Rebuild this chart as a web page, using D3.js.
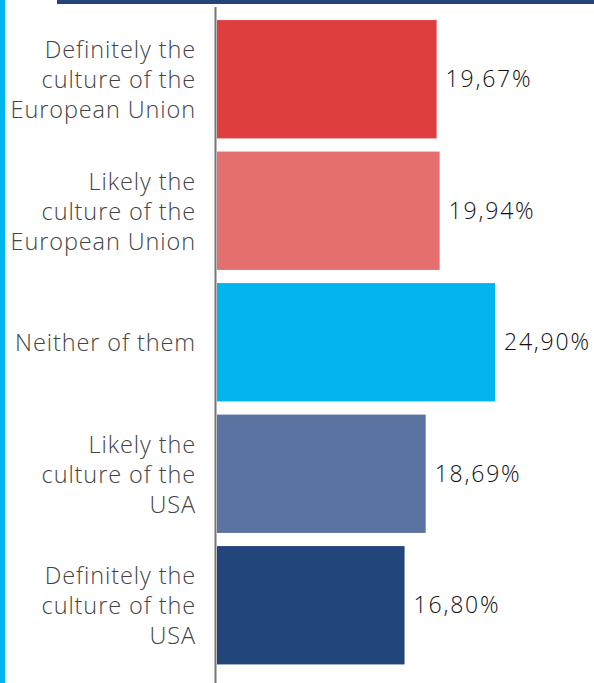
<!DOCTYPE html>
<html><head><meta charset="utf-8">
<script src="https://cdn.jsdelivr.net/npm/d3@7"></script>
<style>html,body{margin:0;padding:0;background:#fff;overflow:hidden}</style>
</head><body>
<svg id="chart" width="594" height="683"></svg>
<script>
const categories = [
  ["Definitely the","culture of the","European Union"],
  ["Likely the","culture of the","European Union"],
  ["Neither of them"],
  ["Likely the","culture of the","USA"],
  ["Definitely the","culture of the","USA"]
];
const values = [19.67, 19.94, 24.90, 18.69, 16.80];
const valueLabels = ["19,67%","19,94%","24,90%","18,69%","16,80%"];
const colors = ["#DF3E3E","#E46F6E","#00B5EE","#5A73A0","#22457C"];

const svg = d3.select("#chart");
const W = 594, H = 683;
const ids = d3.range(values.length);

// decorations
svg.append("rect").attr("x",0).attr("y",0).attr("width",5).attr("height",H).attr("fill","#00B5EE");
svg.append("rect").attr("x",57).attr("y",0).attr("width",W-57).attr("height",4).attr("fill","#22457C");

const x = d3.scaleLinear().domain([0, 24.90]).range([217, 495]);
const y = d3.scaleBand().domain(ids).range([13.5, 671]).paddingInner(0.1).paddingOuter(0.05);

svg.append("g").selectAll("rect").data(ids).join("rect")
  .attr("x", x(0))
  .attr("y", i => y(i))
  .attr("width", i => x(values[i]) - x(0))
  .attr("height", y.bandwidth())
  .attr("fill", i => colors[i]);

// axis line
svg.append("line").attr("x1",215.5).attr("x2",215.5).attr("y1",7).attr("y2",H)
  .attr("stroke","#777").attr("stroke-width",2);

// category labels
const lh = 30;
const lab = svg.append("g").selectAll("text").data(ids).join("text")
  .attr("text-anchor","end")
  .attr("font-family","'Open Sans', sans-serif")
  .attr("font-weight",300)
  .attr("font-size",23.5)
  .attr("letter-spacing",0.9)
  .attr("fill","#444");
lab.each(function(i){
  const lines = categories[i];
  const cy = y(i) + y.bandwidth()/2 + 1;
  const t = d3.select(this);
  lines.forEach((l,k)=>{
    t.append("tspan").attr("x",196)
     .attr("y", cy + (k - (lines.length-1)/2)*lh)
     .attr("dy","0.35em").text(l);
  });
});

// value labels
svg.append("g").selectAll("text").data(ids).join("text")
  .attr("x", i => x(values[i]) + 9)
  .attr("y", i => y(i) + y.bandwidth()/2)
  .attr("dy","0.35em")
  .attr("font-family","'Open Sans', sans-serif")
  .attr("font-weight",300)
  .attr("font-size",23)
  .attr("letter-spacing",1.8)
  .attr("fill","#111")
  .text(i => valueLabels[i]);
</script>
</body></html>
